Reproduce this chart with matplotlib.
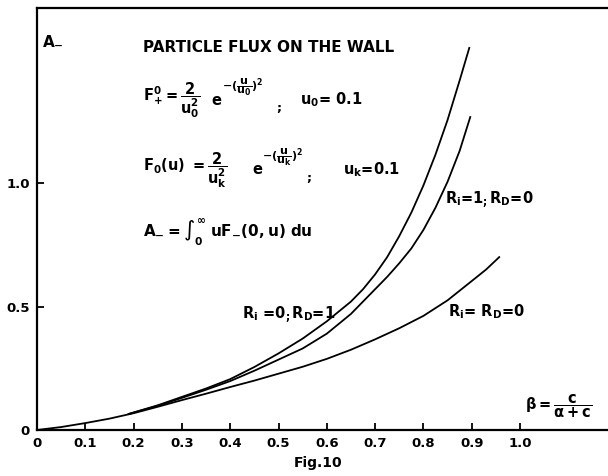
import matplotlib.pyplot as plt

plt.rcParams['font.family'] = ['DejaVu Sans']
plt.rcParams['mathtext.fontset'] = 'dejavusans'
plt.rcParams['mathtext.default'] = 'regular'

# R_i = 0 ; R_D = 1
beta_top = [0.19, 0.25, 0.3, 0.35, 0.4, 0.45, 0.5, 0.55, 0.6, 0.65, 0.675, 0.7, 0.725, 0.75,
            0.775, 0.8, 0.825, 0.85, 0.875, 0.895]
flux_top = [0.065, 0.1, 0.134, 0.168, 0.206, 0.255, 0.31, 0.37, 0.44, 0.52, 0.57, 0.63, 0.70, 0.785,
            0.88, 0.99, 1.115, 1.255, 1.415, 1.547]

# R_i = 1 ; R_D = 0
beta_mid = [0.19, 0.25, 0.3, 0.35, 0.4, 0.45, 0.5, 0.55, 0.6, 0.65, 0.7, 0.725, 0.75,
            0.775, 0.8, 0.825, 0.85, 0.875, 0.897]
flux_mid = [0.065, 0.098, 0.13, 0.163, 0.198, 0.24, 0.285, 0.33, 0.39, 0.47, 0.57, 0.62, 0.675,
            0.735, 0.81, 0.9, 1.005, 1.13, 1.267]

# R_i = R_D = 0
beta_low = [0, 0.05, 0.1, 0.15, 0.2, 0.25, 0.3, 0.35, 0.4, 0.45, 0.5, 0.55, 0.6, 0.65,
            0.7, 0.75, 0.8, 0.85, 0.9, 0.93, 0.957]
flux_low = [0, 0.012, 0.028, 0.046, 0.068, 0.094, 0.121, 0.147, 0.174, 0.2, 0.228, 0.256,
            0.288, 0.325, 0.367, 0.412, 0.462, 0.525, 0.603, 0.65, 0.70]

xticks = [0, 0.1, 0.2, 0.3, 0.4, 0.5, 0.6, 0.7, 0.8, 0.9, 1.0]
xlabels = ['0', '0.1', '0.2', '0.3', '0.4', '0.5', '0.6', '0.7', '0.8', '0.9', '1.0']
yticks = [0, 0.5, 1.0]
ylabels = ['0', '0.5', '1.0']

fig = plt.figure(figsize=(6.08, 4.76), dpi=100)
ax = fig.add_axes([37 / 608, 46 / 476, 571 / 608, 422 / 476])

lw = 1.3
ax.plot(beta_top, flux_top, color='black', lw=lw)
ax.plot(beta_mid, flux_mid, color='black', lw=lw)
ax.plot(beta_low, flux_low, color='black', lw=lw)

ax.set_xlim(0, 571 / 483)
ax.set_ylim(0, 422 / 247)
ax.spines['right'].set_visible(False)
for s in ['left', 'bottom', 'top']:
    ax.spines[s].set_linewidth(1.6)

ax.set_xticks(xticks)
ax.set_xticklabels(xlabels, fontweight='bold', fontsize=9.5)
ax.set_yticks(yticks)
ax.set_yticklabels(ylabels, fontweight='bold', fontsize=9.5)
ax.tick_params(direction='in', length=5, width=1.3, pad=5)

tk = dict(fontweight='bold', color='black')
ax.text(0.01, 1.56, r'A$_{-}$', fontsize=11, **tk)
ax.text(0.22, 1.53, 'PARTICLE FLUX ON THE WALL', fontsize=11, **tk)

# first formula
ax.text(0.22, 1.336, r'$F_{+}^{0} = \dfrac{2}{u_0^2}$', fontsize=10.5, va='center', **tk)
ax.text(0.362, 1.336, 'e', fontsize=10.5, va='center', **tk)
ax.text(0.382, 1.385, r'$-(\dfrac{u}{u_0})^2$', fontsize=8, va='center', **tk)
ax.text(0.495, 1.30, ';', fontsize=9, va='center', **tk)
ax.text(0.545, 1.336, r'$u_0$= 0.1', fontsize=10.5, va='center', **tk)

# second formula
ax.text(0.22, 1.053, r'$F_0(u)\ = \dfrac{2}{u_k^2}$', fontsize=10.5, va='center', **tk)
ax.text(0.445, 1.053, 'e', fontsize=10.5, va='center', **tk)
ax.text(0.466, 1.10, r'$-(\dfrac{u}{u_k})^2$', fontsize=8, va='center', **tk)
ax.text(0.558, 1.02, ';', fontsize=9, va='center', **tk)
ax.text(0.634, 1.053, r'$u_k$=0.1', fontsize=10.5, va='center', **tk)

ax.text(0.22, 0.80, r'$A_{-} = \int_0^{\infty}\ uF_{-}(0,u)\ du$', fontsize=11,
        va='center', **tk)

ax.text(0.845, 0.93, r'$R_i$=1$_;$$R_D$=0', fontsize=10.5, va='center', **tk)
ax.text(0.425, 0.465, r'$R_i$ =0$_;$$R_D$=1', fontsize=10.5, va='center', **tk)
ax.text(0.85, 0.478, r'$R_i$= $R_D$=0', fontsize=10.5, va='center', **tk)
ax.text(1.01, 0.095, r'$\beta = \dfrac{c}{\alpha + c}$', fontsize=10.5, va='center', **tk)

fig.text(318 / 608, 1 - 463 / 476, 'Fig.10', ha='center', va='center', fontsize=10, **tk)

plt.savefig('out.png', dpi=100)
